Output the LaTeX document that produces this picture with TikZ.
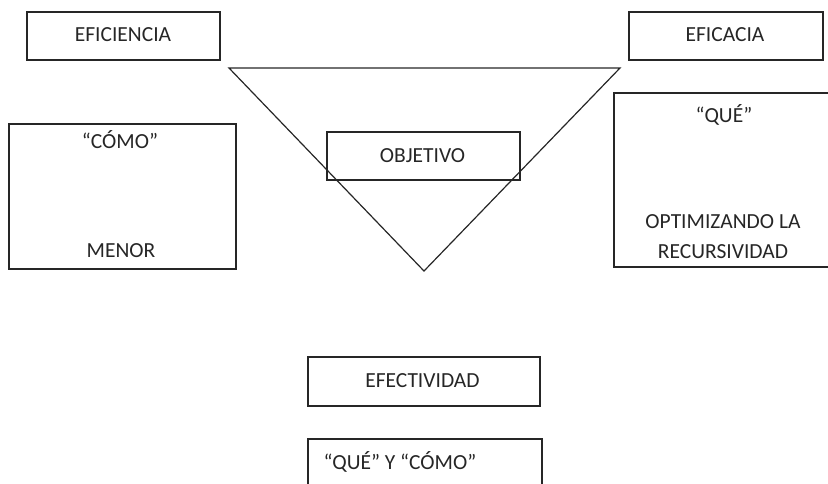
\documentclass[tikz,border=0pt]{standalone}
\usepackage{fontspec}
\setmainfont{Carlito}
\begin{document}
\begin{tikzpicture}[x=1pt,y=-1pt,
  frame/.style={draw=black!85, line width=1.2pt, inner sep=0pt},
  lbl/.style={inner sep=0pt, text height=13.8pt, text depth=0pt, font=\fontsize{21.5}{24}\selectfont, text=black!85},
  tri/.style={draw=black!85, line width=1.2pt, line join=miter}]
\useasboundingbox (0,0) rectangle (828,483);
\clip (0,0) rectangle (828,483);
% top boxes
\node[frame, minimum width=193pt, minimum height=48pt] (eficiencia) at (123.5,36) {};
\node[lbl] (teficiencia) at (123,35) {EFICIENCIA};
\node[frame, minimum width=194pt, minimum height=48pt] (eficacia) at (726,36) {};
\node[lbl] (teficacia) at (725,35) {EFICACIA};
% triangle
\coordinate (tl) at (229,68);
\coordinate (tr) at (620,68);
\coordinate (tip) at (424,271);
\draw[tri] (tl) -- (tr) -- (tip) -- cycle;
% objetivo
\node[frame, minimum width=193pt, minimum height=48pt] (objetivo) at (423.5,156) {};
\node[lbl] (tobjetivo) at (422.5,156) {OBJETIVO};
% left box
\node[frame, minimum width=227pt, minimum height=145pt] (como) at (122.5,196.5) {};
\node[lbl] (tcomo) at (120,142) {“CÓMO”};
\node[lbl] (tmenor) at (121,251) {MENOR};
% right box (cut by the edge)
\node[frame, minimum width=240pt, minimum height=174pt] (que) at (734,180) {};
\node[lbl] (tque) at (724,116) {“QUÉ”};
\node[lbl] (topt) at (723,222) {OPTIMIZANDO LA};
\node[lbl] (trec) at (723,252) {RECURSIVIDAD};
% bottom boxes
\node[frame, minimum width=232pt, minimum height=49pt] (efectividad) at (424,381.5) {};
\node[lbl] (tefectividad) at (422.5,381) {EFECTIVIDAD};
\node[frame, minimum width=234pt, minimum height=60pt] (queycomo) at (425,469) {};
\node[lbl] (tqueycomo) at (400,463) {“QUÉ” Y “CÓMO”};
\end{tikzpicture}
\end{document}
